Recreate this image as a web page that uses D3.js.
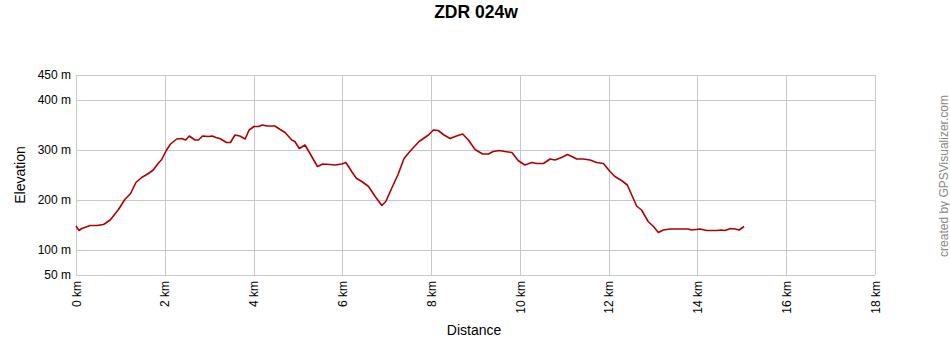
<!DOCTYPE html>
<html>
<head>
<meta charset="utf-8">
<script src="https://cdn.jsdelivr.net/npm/d3@7"></script>
<style>
  body { margin: 0; background: #fff; }
  text { font-family: "Liberation Sans", Arial, sans-serif; }
</style>
</head>
<body>
<div id="chart"></div>
<script>
// profile
var distKm = [0, 0.07, 0.13, 0.32, 0.47, 0.62, 0.77, 0.95, 1.10, 1.23, 1.35, 1.48, 1.63, 1.74, 1.85, 1.93,
  2.04, 2.13, 2.27, 2.38, 2.47, 2.55, 2.68, 2.76, 2.85, 2.98, 3.07, 3.15, 3.24, 3.39, 3.48, 3.58, 3.69, 3.81,
  3.90, 4.01, 4.11, 4.20, 4.30, 4.48, 4.60, 4.71, 4.86, 4.93, 5.03, 5.16, 5.31, 5.44, 5.56, 5.72, 5.83, 5.99,
  6.08, 6.21, 6.32, 6.44, 6.59, 6.74, 6.89, 6.98, 7.11, 7.25, 7.39, 7.52, 7.73, 7.94, 8.05, 8.16, 8.29, 8.43,
  8.54, 8.71, 8.84, 8.99, 9.16, 9.29, 9.40, 9.54, 9.66, 9.82, 9.96, 10.11, 10.27, 10.38, 10.53, 10.68, 10.79,
  10.94, 11.07, 11.17, 11.28, 11.43, 11.58, 11.73, 11.88, 12.03, 12.14, 12.29, 12.42, 12.52, 12.63, 12.74,
  12.89, 13.01, 13.12, 13.23, 13.38, 13.61, 13.79, 13.87, 14.06, 14.21, 14.43, 14.54, 14.62, 14.75, 14.85,
  14.94, 15.05];
var elevM = [148, 139, 143, 149, 149, 151, 160, 180, 201, 213, 235, 245, 253, 260, 273, 281,
  300, 312, 322, 323, 320, 328, 320, 320, 328, 327, 328, 325, 323, 315, 315, 330, 328, 322,
  340, 347, 347, 350, 348, 348, 341, 335, 320, 317, 303, 310, 287, 267, 272, 271, 270, 272,
  275, 257, 243, 237, 227, 207, 189, 197, 223, 250, 283, 297, 317, 330, 340, 339, 330, 323,
  327, 332, 320, 301, 292, 292, 297, 299, 297, 295, 279, 270, 275, 273, 273, 282, 280,
  285, 291, 287, 282, 282, 280, 275, 273, 257, 247, 239, 230, 210, 188, 180,
  157, 147, 135, 140, 142, 142, 142, 140, 142, 139, 139, 140, 139, 143, 142,
  140, 147];

var yTicks = [50, 100, 200, 300, 400, 450];
var xTicks = [0, 2, 4, 6, 8, 10, 12, 14, 16, 18];

var svgWidth = 950, svgHeight = 350;
var margin = { top: 75, right: 75, bottom: 75, left: 76 };
var width = 875 - margin.left;
var height = 275 - margin.top;

var svg = d3.select('#chart')
  .append('svg')
  .attr('width', svgWidth)
  .attr('height', svgHeight);

var g = svg.append('g')
  .attr('transform', 'translate(' + margin.left + ',' + margin.top + ')');

var x = d3.scaleLinear().domain([0, 18]).range([0, width]);
var y = d3.scaleLinear().domain([50, 450]).range([height, 0]);

// grid lines
g.append('g')
  .selectAll('line')
  .data(yTicks)
  .enter().append('line')
  .attr('x1', 0).attr('x2', width)
  .attr('y1', function(d) { return Math.round(y(d)) + 0.5; })
  .attr('y2', function(d) { return Math.round(y(d)) + 0.5; })
  .attr('stroke', '#c8c8c8');

g.append('g')
  .selectAll('line')
  .data(xTicks)
  .enter().append('line')
  .attr('y1', 0).attr('y2', height)
  .attr('x1', function(d) { return Math.round(x(d)) + 0.5; })
  .attr('x2', function(d) { return Math.round(x(d)) + 0.5; })
  .attr('stroke', '#c8c8c8');

// axes (labels only)
var yAxis = g.append('g')
  .call(d3.axisLeft(y).tickValues(yTicks).tickSize(0).tickPadding(5).tickFormat(function(d) { return d + ' m'; }));
yAxis.select('.domain').remove();
yAxis.selectAll('text').style('font-size', '12px').attr('fill', '#000');

var xAxis = g.append('g')
  .attr('transform', 'translate(0,' + height + ')')
  .call(d3.axisBottom(x).tickValues(xTicks).tickSize(0).tickFormat(function(d) { return d + ' km'; }));
xAxis.select('.domain').remove();
xAxis.selectAll('text')
  .style('font-size', '12px')
  .attr('fill', '#000')
  .style('text-anchor', 'end')
  .attr('transform', 'rotate(-90)')
  .attr('x', -6)
  .attr('y', 0)
  .attr('dy', '0.35em');

// elevation line
var line = d3.line()
  .x(function(d, i) { return x(distKm[i]); })
  .y(function(d) { return y(d); });

g.append('path')
  .datum(elevM)
  .attr('d', line)
  .attr('fill', 'none')
  .attr('stroke', '#b00000')
  .attr('stroke-width', 1.6)
  .attr('stroke-linejoin', 'round');

// titles
svg.append('text')
  .attr('x', 476)
  .attr('y', 18)
  .attr('text-anchor', 'middle')
  .style('font-size', '17.5px')
  .style('font-weight', 'bold')
  .text('ZDR 024w');

svg.append('text')
  .attr('x', 474)
  .attr('y', 335)
  .attr('text-anchor', 'middle')
  .style('font-size', '14px')
  .text('Distance');

svg.append('text')
  .attr('transform', 'translate(25,175) rotate(-90)')
  .attr('text-anchor', 'middle')
  .style('font-size', '14px')
  .text('Elevation');

svg.append('text')
  .attr('transform', 'translate(948,176) rotate(-90)')
  .attr('text-anchor', 'middle')
  .style('font-size', '12px')
  .attr('fill', '#888')
  .text('created by GPSVisualizer.com');
</script>
</body>
</html>
